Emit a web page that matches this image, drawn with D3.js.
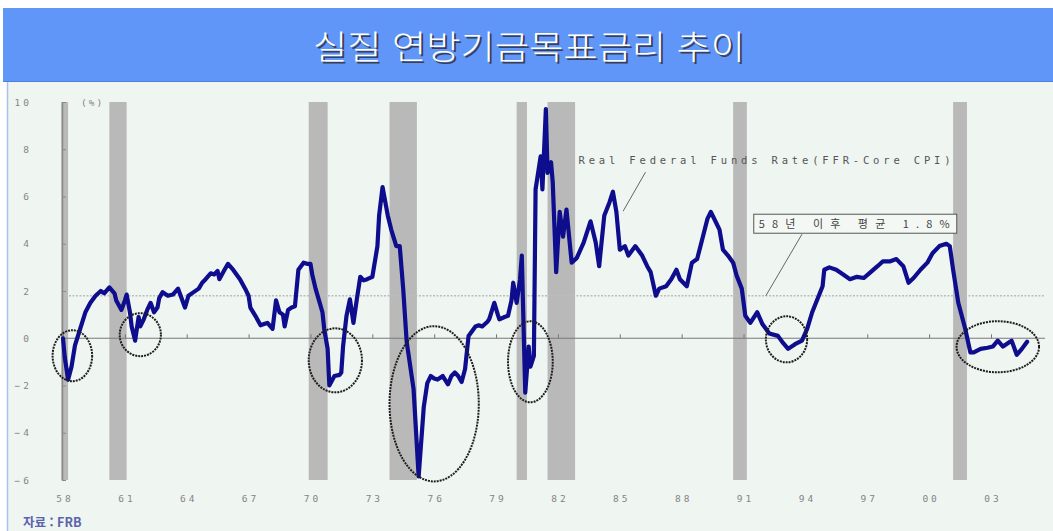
<!DOCTYPE html>
<html lang="ko">
<head>
<meta charset="utf-8">
<script src="https://cdn.jsdelivr.net/npm/d3@7/dist/d3.min.js"></script>
<style>
  html, body { margin: 0; padding: 0; background: #ffffff; }
  svg { display: block; }
</style>
</head>
<body>
<svg id="chart" width="1053" height="531"></svg>
<script>
// Real federal funds rate (FFR minus core CPI), monthly observations, %
const dates = [
  "1958-01","1958-02","1958-04","1958-06","1958-08","1958-11","1959-02","1959-05","1959-08","1959-11",
  "1960-01","1960-04","1960-07","1960-08","1960-11","1961-01","1961-02","1961-04","1961-05","1961-07",
  "1961-09","1961-10","1961-12","1962-02","1962-04","1962-06","1962-08","1962-09","1962-11","1963-02",
  "1963-05","1963-08","1963-10","1963-12","1964-02","1964-04","1964-08","1964-10","1964-12","1965-03",
  "1965-05","1965-07","1965-08","1965-11","1966-01","1966-04","1966-06","1966-08","1966-11","1967-01",
  "1967-02","1967-05","1967-08","1967-10","1967-12","1968-03","1968-05","1968-07","1968-09","1968-10",
  "1968-12","1969-02","1969-04","1969-06","1969-09","1969-11","1970-01","1970-02","1970-04","1970-06",
  "1970-08","1970-09","1970-11","1970-12","1971-03","1971-06","1971-07","1971-08","1971-10","1971-12",
  "1972-02","1972-04","1972-06","1972-08","1972-10","1973-01","1973-04","1973-05","1973-07","1973-10",
  "1973-12","1974-03","1974-05","1974-07","1974-09","1975-01","1975-04","1975-07","1975-09","1975-11",
  "1976-01","1976-03","1976-06","1976-09","1976-11","1977-01","1977-03","1977-05","1977-07","1977-09",
  "1977-11","1978-01","1978-03","1978-05","1978-08","1978-09","1978-12","1979-02","1979-03","1979-06",
  "1979-08","1979-10","1979-11","1980-01","1980-03","1980-04","1980-05","1980-06","1980-08","1980-09",
  "1980-11","1980-12","1981-03","1981-04","1981-06","1981-07","1981-09","1981-10","1981-12","1982-02",
  "1982-04","1982-06","1982-09","1982-12","1983-04","1983-08","1983-11","1984-01","1984-04","1984-07",
  "1984-09","1984-11","1985-01","1985-04","1985-06","1985-10","1986-02","1986-05","1986-07","1986-10",
  "1986-12","1987-04","1987-07","1987-10","1987-12","1988-04","1988-07","1988-10","1989-01","1989-04",
  "1989-06","1989-09","1989-11","1990-01","1990-04","1990-07","1990-09","1990-12","1991-02","1991-05",
  "1991-09","1991-12","1992-04","1992-09","1992-12","1993-03","1993-07","1993-11","1994-02","1994-05",
  "1994-08","1994-11","1994-12","1995-03","1995-07","1995-11","1996-03","1996-07","1996-11","1997-03",
  "1997-07","1997-10","1998-02","1998-06","1998-10","1999-01","1999-04","1999-08","1999-12","2000-03",
  "2000-07","2000-11","2001-01","2001-03","2001-06","2001-08","2001-10","2002-01","2002-03","2002-07",
  "2002-11","2003-02","2003-05","2003-08","2003-11","2004-01","2004-04","2004-07","2004-10"
];
const realRate = [
   0.0, -0.8, -1.75, -1.2, -0.3,  0.4,  1.1,  1.5,  1.8,  2.0,
   1.9,  2.15, 1.9,  1.6,  1.2,  1.6,  1.85, 1.1,  0.5, -0.1,
   0.9,  0.5,  0.8,  1.2,  1.5,  1.1,  1.3,  1.7,  1.95, 1.8,
   1.85, 2.1,  1.7,  1.3,  1.8,  1.9,  2.1,  2.35, 2.5,  2.75,
   2.7,  2.85, 2.5,  2.9,  3.15, 2.9,  2.7,  2.5,  2.1,  1.8,
   1.3,  0.95, 0.55, 0.6,  0.65, 0.4,  1.6,  1.1,  1.0,  0.5,
   1.2,  1.3,  1.35, 2.9,  3.2,  3.15, 3.15, 2.7,  2.1,  1.6,
   1.1,  0.4, -0.45,-2.0, -1.6, -1.55,-1.45,-0.35, 0.95, 1.65,
   0.65, 1.65, 2.6,  2.45, 2.5,  2.6,  3.9,  5.2,  6.4,  5.2,
   4.6,  3.9,  3.9,  2.1, -0.15,-2.15,-5.85,-2.9, -1.9, -1.6,
  -1.7, -1.75,-1.6, -1.95,-1.6, -1.45,-1.6, -1.85,-1.3,  0.1,
   0.3,  0.5,  0.55, 0.5,  0.7,  0.8,  1.5,  1.0,  0.8,  0.9,
   0.95, 1.6,  2.35, 1.5,  2.5,  3.5,  0.65,-2.3, -0.35,-1.2,
  -0.75, 6.3,  7.7,  6.3,  9.7,  7.0,  7.45, 6.6,  2.8,  5.35,
   4.3,  5.45, 3.2,  3.4,  4.05, 4.95, 4.05, 3.05, 5.2,  5.75,
   6.2,  5.35, 3.75, 3.9,  3.5,  3.9,  3.5,  3.05, 2.8,  1.8,
   2.1,  2.2,  2.5,  2.9,  2.5,  2.2,  3.2,  3.35, 4.2,  5.05,
   5.35, 4.9,  4.6,  3.75, 3.5,  3.2,  2.65, 2.1,  0.95, 0.65,
   1.1,  0.6,  0.2,  0.1, -0.2, -0.45,-0.25,-0.1,  0.4,  1.1,
   1.65, 2.2,  2.9,  3.0,  2.9,  2.7,  2.5,  2.6,  2.55, 2.8,
   3.05, 3.25, 3.25, 3.35, 3.05, 2.35, 2.55, 2.9,  3.2,  3.6,
   3.9,  4.0,  3.9,  2.9,  1.5,  0.95, 0.4, -0.6, -0.6, -0.45,
  -0.4, -0.35,-0.1, -0.35,-0.2, -0.1, -0.7, -0.45,-0.15
];

// NBER recession periods (start, end)
const recessionStarts = ["1957-12","1960-04","1969-12","1973-11","1980-01","1981-07","1990-07","2001-03"];
const recessionEnds   = ["1958-04","1961-02","1970-11","1975-03","1980-07","1982-11","1991-03","2001-11"];

// Axis ticks
const yTickValues = [10, 8, 6, 4, 2, 0, -2, -4, -6];
const xTickYears  = [1958, 1961, 1964, 1967, 1970, 1973, 1976, 1979, 1982, 1985, 1988, 1991, 1994, 1997, 2000, 2003];
const xTickLabels = ["58","61","64","67","70","73","76","79","82","85","88","91","94","97","00","03"];

// Long-run average since 1958
const averageRate = 1.8;

// Periods of negative real rates, circled: date span and value span
const circleFrom = ["1957-07","1960-10","1969-12","1973-11","1979-08","1992-02","2001-05"];
const circleTo   = ["1959-06","1962-10","1972-07","1978-03","1981-10","1994-02","2005-05"];
const circleHigh = [0.34, 1.06, 0.42, 0.51, 0.72, 0.93, 0.72];
const circleLow  = [-1.82, -0.76, -2.29, -6.06, -2.71, -1.02, -1.44];

const titleText  = "실질 연방기금목표금리 추이";
const seriesName = "Real Federal Funds Rate(FFR-Core CPI)";
const avgLabel   = "58년  이후  평균  1.8%";
const unitLabel  = "(%)";
const sourceText = "자료 : FRB";

const parse = d3.timeParse("%Y-%m");
const series = dates.map((d, i) => ({ date: parse(d), value: realRate[i] }));

const svg = d3.select("#chart");

// ---- frame: title band and chart panel ----
svg.append("rect").attr("x", 7).attr("y", 82).attr("width", 1046).attr("height", 449)
  .attr("fill", "#eff5f1");
svg.append("line").attr("x1", 7.5).attr("x2", 7.5).attr("y1", 82).attr("y2", 531)
  .attr("stroke", "#a9c3ee").attr("stroke-width", 1.5);
svg.append("rect").attr("x", 3).attr("y", 8).attr("width", 1050).attr("height", 74)
  .attr("fill", "#6096f8");
svg.append("line").attr("x1", 3).attr("x2", 1053).attr("y1", 81.5).attr("y2", 81.5)
  .attr("stroke", "#4c80de").attr("stroke-width", 1);

const titleFont = "'Noto Sans CJK KR', 'Noto Sans', sans-serif";
[["#3a3f55", 2, 2], ["#ffffff", 0, 0]].forEach(([fill, dx, dy]) => {
  svg.append("text")
    .attr("x", 313 + dx).attr("y", 59 + dy)
    .attr("textLength", 432).attr("lengthAdjust", "spacingAndGlyphs")
    .attr("font-family", titleFont).attr("font-size", 33).attr("font-weight", 300)
    .attr("fill", fill)
    .text(titleText);
});

// ---- scales ----
const x = d3.scaleTime()
  .domain([new Date(1958, 0, 1), new Date(2003, 0, 1)])
  .range([63, 991]);
const y = d3.scaleLinear().domain([-6, 10]).range([480, 102]);

const plotLeft = 62, plotRight = 1045;
const g = svg.append("g");

// recession shading
g.selectAll("rect.recession")
  .data(recessionStarts.map((s, i) => [parse(s), parse(recessionEnds[i])]))
  .join("rect")
  .attr("class", "recession")
  .attr("x", d => x(d[0]))
  .attr("width", d => x(d[1]) - x(d[0]))
  .attr("y", y(10))
  .attr("height", y(-6) - y(10))
  .attr("fill", "#b9b9b9");

// average line
g.append("line")
  .attr("x1", plotLeft).attr("x2", plotRight)
  .attr("y1", y(averageRate)).attr("y2", y(averageRate))
  .attr("stroke", "#bdbdbd").attr("stroke-width", 1.6)
  .attr("stroke-dasharray", "2,1.5");

// zero line with small ticks at the labelled years
const zeroAxis = d3.axisBottom(x)
  .tickValues(xTickYears.map(yr => new Date(yr, 0, 1)))
  .tickSize(-4).tickSizeOuter(0).tickFormat("");
const za = g.append("g").attr("transform", `translate(0,${y(0)})`).call(zeroAxis);
za.select(".domain").remove();
za.selectAll(".tick line").attr("stroke", "#777");
g.append("line")
  .attr("x1", plotLeft).attr("x2", plotRight)
  .attr("y1", y(0)).attr("y2", y(0))
  .attr("stroke", "#7a7a7a").attr("stroke-width", 1.2);

// y axis
const labelFont = "'DejaVu Sans Mono', 'Liberation Mono', monospace";
const yAxis = d3.axisLeft(y).tickValues(yTickValues)
  .tickSize(-4).tickSizeOuter(0).tickPadding(30)
  .tickFormat(d => d3.format("d")(d).replace("-", "−"));
const ya = g.append("g").attr("transform", `translate(${plotLeft},0)`).call(yAxis);
ya.select(".domain").attr("stroke", "#8a8a8a").attr("stroke-width", 1.5);
ya.selectAll(".tick line").attr("stroke", "#8a8a8a");
ya.selectAll(".tick text")
  .attr("font-family", labelFont).attr("font-size", 9.5)
  .attr("letter-spacing", 3).attr("fill", "#858585");

// x axis labels
const xAxis = d3.axisBottom(x)
  .tickValues(xTickYears.map(yr => new Date(yr, 0, 1)))
  .tickSize(0).tickPadding(15)
  .tickFormat((d, i) => xTickLabels[i]);
const xa = g.append("g").attr("transform", `translate(0,${y(-6)})`).call(xAxis);
xa.select(".domain").remove();
xa.selectAll(".tick text")
  .attr("font-family", labelFont).attr("font-size", 9.5)
  .attr("letter-spacing", 3).attr("dx", 1.5).attr("fill", "#858585");

// unit label
g.append("text").attr("x", 81).attr("y", y(10) + 4)
  .attr("font-family", labelFont).attr("font-size", 9.5)
  .attr("letter-spacing", 2).attr("fill", "#858585")
  .text(unitLabel);

// ---- series line ----
const line = d3.line().x(d => x(d.date)).y(d => y(d.value));
g.append("path")
  .datum(series)
  .attr("d", line)
  .attr("fill", "none")
  .attr("stroke", "#0d0d8e")
  .attr("stroke-width", 4.2)
  .attr("stroke-linejoin", "round")
  .attr("stroke-linecap", "round");

// ---- dashed ellipses around negative-rate periods ----
g.selectAll("ellipse.period")
  .data(circleFrom.map((f, i) => ({
    x0: x(parse(f)), x1: x(parse(circleTo[i])),
    y0: y(circleHigh[i]), y1: y(circleLow[i])
  })))
  .join("ellipse")
  .attr("class", "period")
  .attr("cx", d => (d.x0 + d.x1) / 2)
  .attr("cy", d => (d.y0 + d.y1) / 2)
  .attr("rx", d => (d.x1 - d.x0) / 2)
  .attr("ry", d => (d.y1 - d.y0) / 2)
  .attr("fill", "none")
  .attr("stroke", "#1e1e1e")
  .attr("stroke-width", 2)
  .attr("stroke-dasharray", "2,1");

// ---- annotations ----
const annoFont = "'DejaVu Sans Mono', 'Liberation Mono', monospace";
g.append("text")
  .attr("x", x(parse("1983-01"))).attr("y", y(7.37))
  .attr("textLength", 372).attr("lengthAdjust", "spacing")
  .attr("font-family", annoFont).attr("font-size", 10.5)
  .attr("fill", "#555")
  .text(seriesName);
g.append("line")
  .attr("x1", x(parse("1986-04"))).attr("y1", y(7.03))
  .attr("x2", x(parse("1985-03"))).attr("y2", y(5.38))
  .attr("stroke", "#666").attr("stroke-width", 1);

const boxX = x(parse("1991-07")), boxW = 203, boxTop = y(5.25), boxH = 19;
g.append("rect")
  .attr("x", boxX).attr("y", boxTop).attr("width", boxW).attr("height", boxH)
  .attr("fill", "#f4f8f4").attr("stroke", "#555").attr("stroke-width", 1);
g.append("text")
  .attr("x", boxX + 5).attr("y", boxTop + 14)
  .attr("textLength", boxW - 12).attr("lengthAdjust", "spacing")
  .attr("font-family", "'Noto Sans CJK KR', sans-serif").attr("font-size", 11)
  .attr("fill", "#444")
  .text(avgLabel);
g.append("line")
  .attr("x1", x(parse("1993-11"))).attr("y1", boxTop + boxH + 1)
  .attr("x2", x(parse("1992-02"))).attr("y2", y(averageRate))
  .attr("stroke", "#666").attr("stroke-width", 1);

// ---- source ----
svg.append("text")
  .attr("x", 23).attr("y", 527)
  .attr("font-family", "'Noto Sans CJK KR', sans-serif")
  .attr("font-size", 12.5).attr("font-weight", 700)
  .attr("fill", "#5c62ad")
  .text(sourceText);
</script>
</body>
</html>
